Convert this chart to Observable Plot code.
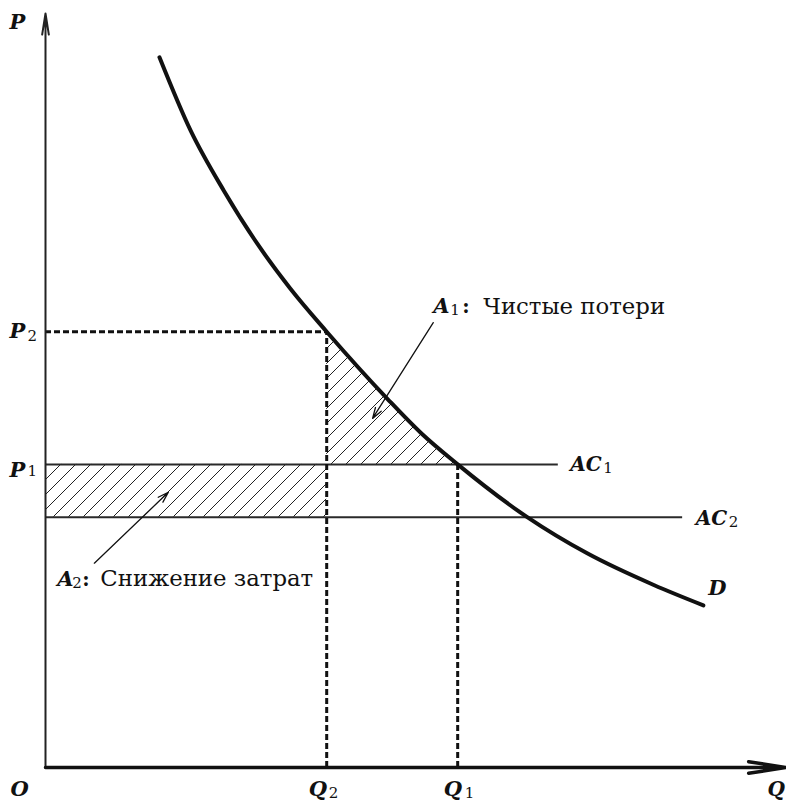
<!DOCTYPE html>
<html><head><meta charset="utf-8">
<script src="https://cdn.jsdelivr.net/npm/d3@7"></script>
<script src="https://cdn.jsdelivr.net/npm/@observablehq/plot@0.6"></script>
<style>body{margin:0;background:#fff}</style>
</head><body><div id="chart"></div>
<script>
// Demand curve D
const demandQ = [15.4, 19.6, 24.1, 28.6, 33.1, 38.0, 46.2, 50.7, 55.7, 65.1, 73.2, 82.2, 88.9];
const demandP = [94.2, 84.5, 76.5, 69.5, 63.5, 57.8, 48.9, 44.4, 40.2, 33.2, 28.4, 24.2, 21.5];
// Key levels
const quantities = {Q1: 55.7, Q2: 38.0};
const prices = {P1: 40.2, P2: 57.8, AC2: 33.2};
const costLineEnds = {AC1: 69.3, AC2: 86.1};
// Annotation arrows: [tailQ, tailP, headQ, headP]
const arrowA1 = [52.4, 59.0, 44.2, 46.3];
const arrowA2 = [6.6, 27.1, 16.6, 36.5];
// Texts
const textA1 = "Чистые потери";
const textA2 = "Снижение затрат";

const {Q1, Q2} = quantities;
const {P1, P2, AC2} = prices;

const demand = demandQ.map((q, i) => ({q, p: demandP[i]}));
const lossArea = demand.filter(d => d.q >= Q2 - 1e-9 && d.q <= Q1 + 1e-9);

const FF = "DejaVu Serif";
const math = {fontFamily: FF, fontStyle: "italic", fontWeight: "bold", fontSize: 21, textAnchor: "start", fill: "#111"};
const mathS = {...math, fontSize: 20};
const sub = {fontFamily: FF, fontSize: 15, textAnchor: "start", fill: "#111"};
const body = {fontFamily: FF, fontSize: 22.8, textAnchor: "start", fill: "#111"};
const T = (text, x, y, style, dx, dy) => Plot.text([{x, y}], {x: "x", y: "y", text: () => text, ...style, dx, dy});

const svg = Plot.plot({
  width: 786,
  height: 801,
  marginLeft: 45,
  marginRight: 1,
  marginTop: 13,
  marginBottom: 34,
  x: {domain: [0, 100], axis: null},
  y: {domain: [0, 100], axis: null},
  style: {background: "white", overflow: "visible"},
  marks: [
    Plot.rect([{x1: 0, x2: Q2, y1: AC2, y2: P1}], {x1: "x1", x2: "x2", y1: "y1", y2: "y2", fill: "url(#hatch)"}),
    Plot.areaY(lossArea, {x: "q", y1: P1, y2: "p", fill: "url(#hatch)", curve: "monotone-x"}),
    Plot.ruleY([P1], {x1: 0, x2: costLineEnds.AC1, stroke: "#2a2a2a", strokeWidth: 2}),
    Plot.ruleY([AC2], {x1: 0, x2: costLineEnds.AC2, stroke: "#2a2a2a", strokeWidth: 2}),
    Plot.ruleY([P2], {x1: 0, x2: Q2, stroke: "#111", strokeWidth: 3, strokeDasharray: "6,3"}),
    Plot.ruleX([Q2], {y1: 0, y2: P2, stroke: "#111", strokeWidth: 3, strokeDasharray: "6,3"}),
    Plot.ruleX([Q1], {y1: 0, y2: P1, stroke: "#111", strokeWidth: 3, strokeDasharray: "6,3"}),
    Plot.line(demand, {x: "q", y: "p", stroke: "#111", strokeWidth: 4, curve: "monotone-x"}),
    Plot.arrow([{x1: 0, y1: 0, x2: 0, y2: 100}], {x1: "x1", y1: "y1", x2: "x2", y2: "y2", stroke: "#222", strokeWidth: 2, headLength: 16, headAngle: 18}),
    Plot.arrow([{x1: 0, y1: 0, x2: 100, y2: 0}], {x1: "x1", y1: "y1", x2: "x2", y2: "y2", stroke: "#111", strokeWidth: 3.5, headLength: 16, headAngle: 18}),
    Plot.arrow([arrowA1, arrowA2], {x1: d => d[0], y1: d => d[1], x2: d => d[2], y2: d => d[3], stroke: "#111", strokeWidth: 1.3, headLength: 13, headAngle: 35}),
    T("P", 0, 100, math, -36, 9),
    T("O", 0, 0, math, -35, 22),
    T("Q", 100, 0, mathS, -18, 22),
    T("Q", Q2, 0, math, -18, 22), T("2", Q2, 0, sub, 2, 26),
    T("Q", Q1, 0, math, -14, 22), T("1", Q1, 0, sub, 7, 26),
    T("P", 0, P2, math, -36, 0), T("2", 0, P2, sub, -18, 4),
    T("P", 0, P1, math, -36, 6), T("1", 0, P1, sub, -18, 7),
    T("AC", costLineEnds.AC1, P1, mathS, 12, 0), T("1", costLineEnds.AC1, P1, sub, 45, 4),
    T("AC", costLineEnds.AC2, AC2, mathS, 13, 1), T("2", costLineEnds.AC2, AC2, sub, 46, 5),
    T("D", demandQ[demandQ.length - 1], demandP[demandP.length - 1], math, 5, -17),
    T("A", arrowA1[0], arrowA1[1], math, 0, -16), T("1", arrowA1[0], arrowA1[1], sub, 17, -12),
    T(":", arrowA1[0], arrowA1[1], {...body, fontWeight: "bold", fontSize: 20}, 29, -16),
    T(textA1, arrowA1[0], arrowA1[1], body, 50, -16),
    T("A", arrowA2[0], arrowA2[1], math, -37, 16), T("2", arrowA2[0], arrowA2[1], sub, -22, 20),
    T(":", arrowA2[0], arrowA2[1], {...body, fontWeight: "bold", fontSize: 20}, -12, 16),
    T(textA2, arrowA2[0], arrowA2[1], body, 6, 16)
  ]
});

const defs = document.createElementNS("http://www.w3.org/2000/svg", "defs");
defs.innerHTML = '<pattern id="hatch" patternUnits="userSpaceOnUse" width="15" height="15"><path d="M-2,2 l4,-4 M0,15 l15,-15 M13,17 l4,-4" stroke="#222" stroke-width="1"/></pattern>';
svg.insertBefore(defs, svg.firstChild);
document.getElementById("chart").appendChild(svg);
</script>
</body></html>
